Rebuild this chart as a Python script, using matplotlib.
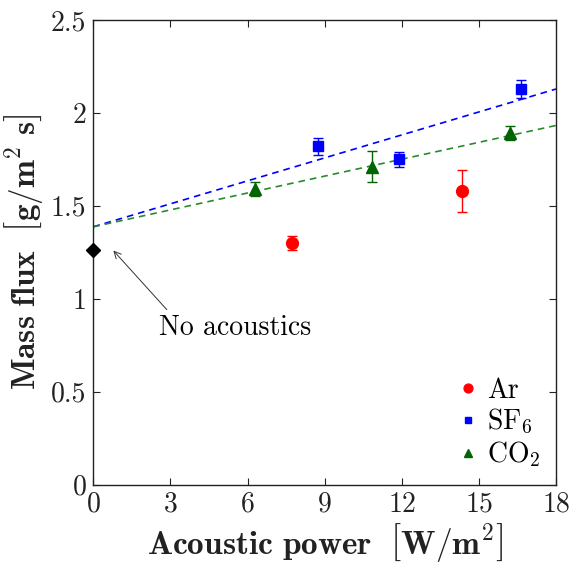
import numpy as np
import matplotlib
matplotlib.use("Agg")
import matplotlib.pyplot as plt

plt.rcParams['font.family'] = ['cmr10', 'DejaVu Serif']
plt.rcParams['mathtext.fontset'] = 'cm'
plt.rcParams['axes.formatter.use_mathtext'] = True

# values
ar_x = [7.74, 14.34]
ar_y = [1.30, 1.58]
ar_err = [0.04, 0.115]

sf6_x = [8.73, 11.90, 16.64]
sf6_y = [1.82, 1.75, 2.13]
sf6_err = [0.045, 0.04, 0.048]

co2_x = [6.29, 10.83, 16.21]
co2_y = [1.59, 1.71, 1.89]
co2_err = [0.036, 0.083, 0.038]

# reference case without acoustics
base_x = [0.0]
base_y = [1.262]

# linear fits (intercept, slope)
sf6_fit = [1.387, 0.0412]
co2_fit = [1.387, 0.0303]

xticks = [0, 3, 6, 9, 12, 15, 18]
yticks = [0, 0.5, 1, 1.5, 2, 2.5]
ytick_labels = ['0', '0.5', '1', '1.5', '2', '2.5']

red = '#ff0000'
blue = '#0000ff'
green = '#006400'

fig = plt.figure(figsize=(5.7, 5.63), dpi=100)
ax = fig.add_axes([0.1637, 0.1394, 0.8117, 0.8251])

xfit = np.array([0, 18])
ax.plot(xfit, sf6_fit[0] + sf6_fit[1] * xfit, '--', color=blue, lw=1.2, dashes=(4, 3))
ax.plot(xfit, co2_fit[0] + co2_fit[1] * xfit, '--', color='#2a8a2a', lw=1.2, dashes=(4, 3))

ax.errorbar(ar_x, ar_y, yerr=ar_err, fmt='none', ecolor=red, elinewidth=1, capsize=3.5)
ax.errorbar(sf6_x, sf6_y, yerr=sf6_err, fmt='none', ecolor=blue, elinewidth=1, capsize=3.5)
ax.errorbar(co2_x, co2_y, yerr=co2_err, fmt='none', ecolor=green, elinewidth=1, capsize=3.5)

ax.plot(ar_x, ar_y, ls='none', marker='o', ms=8.5, color=red, label='Ar')
ax.plot(sf6_x, sf6_y, ls='none', marker='s', ms=6.5, color=blue, label='SF$_6$')
ax.plot(co2_x, co2_y, ls='none', marker='^', ms=8.5, color=green, label='CO$_2$')
ax.plot(base_x, base_y, ls='none', marker='D', ms=7, color='black', clip_on=False, zorder=5)

ax.annotate('', xy=(0.78, 1.259), xytext=(2.86, 0.941),
            arrowprops=dict(arrowstyle='->,head_length=0.5,head_width=0.25',
                            color='#333333', lw=0.7, shrinkA=0, shrinkB=0))
ax.text(5.51, 0.845, 'No acoustics', fontsize=20, ha='center', va='center')

ax.set_xlim(0, 18)
ax.set_ylim(0, 2.5)
ax.set_xticks(xticks)
ax.set_yticks(yticks)
ax.set_yticklabels(ytick_labels)
ax.tick_params(direction='in', top=True, right=True, labelsize=20, length=5,
               width=0.8, color='#222222', labelcolor='#222222', pad=5)
for s in ax.spines.values():
    s.set_linewidth(1.0)
    s.set_color('#222222')

ax.set_xlabel(r'$\mathbf{Acoustic\ power}\ \ \left[\mathbf{W/m^2}\right]$',
              fontsize=24, color='#222222', labelpad=2)
ax.set_ylabel(r'$\mathbf{Mass\ flux}\ \ \left[\mathbf{g/m^2\ s}\right]$',
              fontsize=24, color='#222222', labelpad=4)

ax.legend(loc='lower right', frameon=False, fontsize=20, markerscale=0.75,
          handletextpad=0.3, handlelength=0.8, labelspacing=0.12,
          borderaxespad=0.15)

fig.savefig('out.png', dpi=100)
